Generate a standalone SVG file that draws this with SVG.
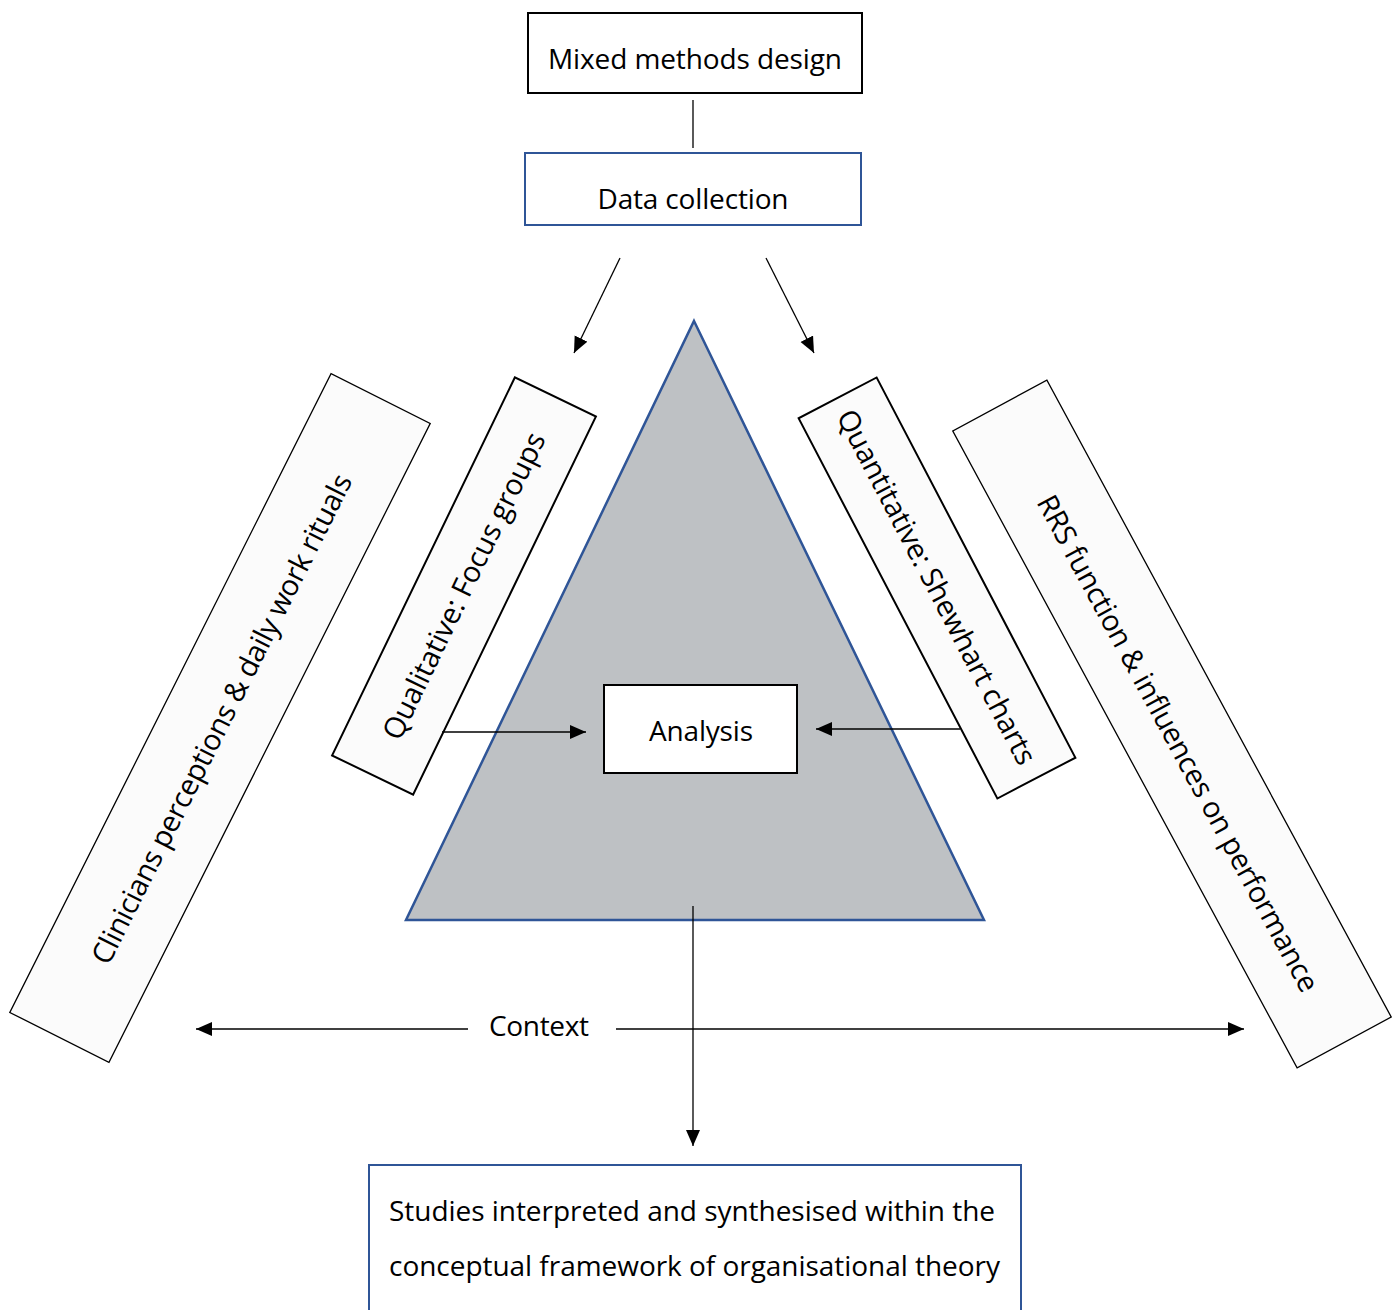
<svg xmlns="http://www.w3.org/2000/svg" width="1400" height="1310" viewBox="0 0 1400 1310">
<defs>
<marker id="ah" markerUnits="userSpaceOnUse" markerWidth="18" markerHeight="16" refX="16" refY="7" orient="auto">
<path d="M0,0 L16,7 L0,14 Z" fill="#000"/>
</marker>
<style>
.t{font-family:"Open Sans","Noto Sans","Liberation Sans",sans-serif;fill:#000;}
.box{fill:#fff;stroke:#000;stroke-width:2;}
.bbox{fill:#fff;stroke:#2F5597;stroke-width:2;}
.band{fill:#FBFBFB;stroke:#000;stroke-width:1.3;}
.band2{fill:#FBFBFB;stroke:#000;stroke-width:2;}
.ln{stroke:#000;stroke-width:1.3;fill:none;}
.arr{stroke:#000;stroke-width:1.3;fill:none;marker-end:url(#ah);}
</style>
</defs>
<rect width="1400" height="1310" fill="#fff"/>

<g id="triangle">
<polygon points="694,321 984,920 406,920" fill="#BEC1C4" stroke="#2F5597" stroke-width="2.5"/>
</g>

<g id="mixed-methods">
<rect class="box" x="528" y="13" width="334" height="80"/>
<text class="t" x="695" y="69" font-size="28" text-anchor="middle" textLength="294">Mixed methods design</text>
</g>

<g id="data-collection">
<rect class="bbox" x="525" y="153" width="336" height="72"/>
<text class="t" x="693" y="209" font-size="28" text-anchor="middle" textLength="191">Data collection</text>
</g>

<g id="clinicians">
<g transform="translate(220,718) rotate(-63.3)">
<rect class="band" x="-357.5" y="-55.5" width="715" height="111"/>
<text class="t" x="0" y="12" font-size="29" text-anchor="middle" textLength="544">Clinicians perceptions &amp; daily work rituals</text>
</g>
</g>

<g id="qualitative">
<g transform="translate(464,586) rotate(-64.2)">
<rect class="band2" x="-210" y="-45" width="420" height="90"/>
<text class="t" x="0" y="10" font-size="29" text-anchor="middle" textLength="337">Qualitative: Focus groups</text>
</g>
</g>

<g id="quantitative">
<g transform="translate(937,588) rotate(62.4)">
<rect class="band2" x="-214.5" y="-44" width="429" height="88"/>
<text class="t" x="-1" y="10" font-size="29" text-anchor="middle" textLength="396">Quantitative: Shewhart charts</text>
</g>
</g>

<g id="rrs">
<g transform="translate(1172,724) rotate(61.6)">
<rect class="band" x="-362" y="-53.5" width="724" height="107"/>
<text class="t" x="20" y="14" font-size="29" text-anchor="middle" textLength="560">RRS function &amp; influences on performance</text>
</g>
</g>

<g id="analysis">
<rect class="box" x="604" y="685" width="193" height="88"/>
<text class="t" x="701" y="741" font-size="28" text-anchor="middle" textLength="104">Analysis</text>
</g>

<g id="context">
<text class="t" x="539" y="1036" font-size="28" text-anchor="middle" textLength="100">Context</text>
</g>

<g id="synthesis">
<rect class="bbox" x="369" y="1165" width="652" height="160"/>
<text class="t" x="389" y="1221" font-size="28" textLength="606">Studies interpreted and synthesised within the</text>
<text class="t" x="389" y="1276" font-size="28" textLength="611">conceptual framework of organisational theory</text>
</g>

<g id="connectors">
<line class="ln" x1="693" y1="100" x2="693" y2="148"/>
<line class="arr" x1="620" y1="258" x2="574" y2="353"/>
<line class="arr" x1="766" y1="258" x2="814" y2="353"/>
<line class="arr" x1="442" y1="732" x2="586" y2="732"/>
<line class="arr" x1="960" y1="729" x2="816" y2="729"/>
<line class="arr" x1="693" y1="906" x2="693" y2="1146"/>
<line class="arr" x1="468" y1="1029" x2="196" y2="1029"/>
<line class="arr" x1="616" y1="1029" x2="1244" y2="1029"/>
</g>
</svg>
